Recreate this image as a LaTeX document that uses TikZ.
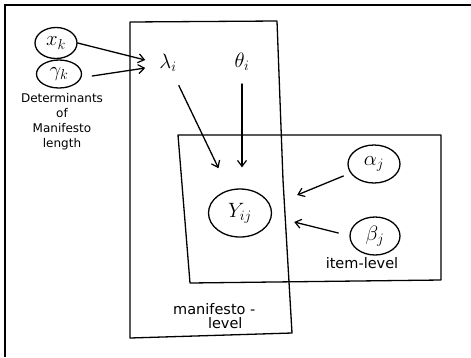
\documentclass[tikz,border=0pt]{standalone}
\usepackage{fontspec}
\setmainfont{DejaVu Sans}
\usetikzlibrary{shapes.geometric,arrows.meta,calc}
\begin{document}
\begin{tikzpicture}[x=1pt,y=-1pt,
  ink/.style={line width=1.3pt,line cap=round,line join=round},
  var/.style={ellipse,draw,line width=1.3pt,inner sep=0pt,font=\fontsize{20}{20}\selectfont},
  lbl/.style={font=\fontsize{20}{20}\selectfont,inner sep=1pt},
  txt/.style={font=\fontsize{12}{15}\selectfont,align=center,inner sep=0pt},
  bigtxt/.style={font=\fontsize{14.5}{14}\selectfont,inner sep=0pt},
  arr/.style={ink,-{Straight Barb[length=6pt,width=9pt,line width=1.2pt]}}]
\useasboundingbox (0,0) rectangle (471,357);
% outer frame
\draw[line width=1.5pt] (5,357) -- (5,5) -- (471,5);
% plates
\draw[ink] (130,22) -- (277,21) -- (283,180) -- (292,333) -- (130,338) -- cycle;
\draw[ink] (178,135) -- (441,135) -- (441,280) -- (190,283) -- cycle;
% nodes
\node[var,minimum width=42,minimum height=31] (xk) at (56,43) {$x_k$};
\node[var,minimum width=45,minimum height=28] (gk) at (59,74) {$\gamma_k$};
\node[txt] (det) at (62,122) {Determinants\\of\\Manifesto\\length};
\node[lbl] (lam) at (168,63) {$\lambda_i$};
\node[lbl] (theta) at (242,62) {$\theta_i$};
\node[var,minimum width=63,minimum height=48,font=\fontsize{22}{22}\selectfont] (Y) at (240,213) {$Y_{ij}$};
\node[var,minimum width=52,minimum height=38] (alpha) at (374,164) {$\alpha_j$};
\node[var,minimum width=50,minimum height=38] (beta) at (375,236) {$\beta_j$};
\node[bigtxt] (item) at (362,263) {item-level};
\node[bigtxt,align=left,anchor=west] (man) at (173,316) {manifesto -\\\hspace*{2.4em}level};
% edges
\draw[arr] (xk.east) -- ([xshift=-13,yshift=3]lam.west);
\draw[arr] (gk.east) ++(10,2) -- ([xshift=-13,yshift=-5]lam.west);
\draw[arr,shorten <=14pt,shorten >=24pt] (lam) -- (Y);
\draw[arr] ([yshift=-12]theta.south) -- ([yshift=21]Y.north -| theta.south);
\draw[arr] ([xshift=-4,yshift=-12]alpha.west) -- ([xshift=25,yshift=18]Y.east);
\draw[arr] ([xshift=-11,yshift=3]beta.west) -- ([xshift=22,yshift=-9]Y.east);
\end{tikzpicture}
\end{document}
